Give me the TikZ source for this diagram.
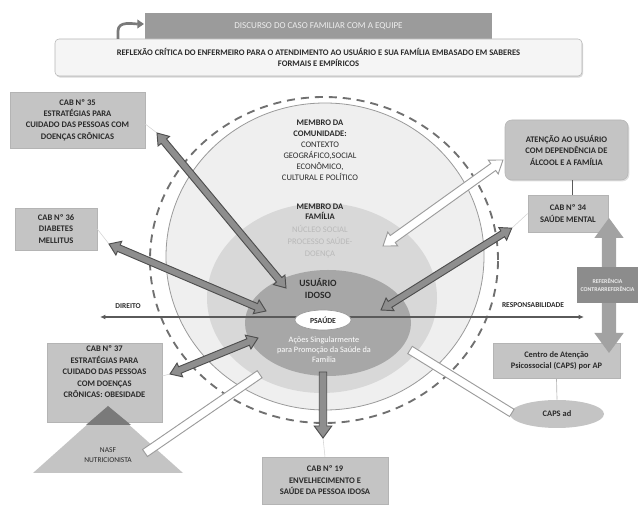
\documentclass[tikz,border=0pt]{standalone}
\usepackage{fontspec}
\setmainfont{Carlito}
\usetikzlibrary{arrows.meta,shapes.geometric,shadows}
\definecolor{cTop}{HTML}{9B9B9B}
\definecolor{cTopTxt}{HTML}{EDEDED}
\definecolor{cRefl}{HTML}{F5F5F5}
\definecolor{cBorder}{HTML}{B4B4B4}
\definecolor{cBox}{HTML}{C4C4C4}
\definecolor{cRing}{HTML}{EFEFEF}
\definecolor{cRingLine}{HTML}{9A9A9A}
\definecolor{cFam}{HTML}{D8D8D8}
\definecolor{cUser}{HTML}{A7A7A7}
\definecolor{cDash}{HTML}{707070}
\definecolor{cLine}{HTML}{5A5A5A}
\definecolor{cArrFill}{HTML}{8E8E8E}
\definecolor{cArrDraw}{HTML}{4E4E4E}
\definecolor{cWArrDraw}{HTML}{9C9C9C}
\definecolor{cFaint}{HTML}{D2D2D2}
\definecolor{cDark}{HTML}{7A7A7A}
\definecolor{cRef}{HTML}{8C8C8C}
\definecolor{cBig}{HTML}{A2A2A2}
\definecolor{cTxt}{HTML}{2A2A2A}
\definecolor{cFamTxt}{HTML}{B9B9B9}

\newcommand\fsz[2]{\fontsize{#1}{#2}\selectfont}
\newcommand\getpts[2]{%
  \pgfpointanchor{#1}{center}\pgfgetlastxy{\faX}{\faY}%
  \pgfpointanchor{#2}{center}\pgfgetlastxy{\fbX}{\fbY}%
  \pgfmathsetmacro\faAng{atan2(\fbY-\faY,\fbX-\faX)}%
  \pgfmathsetmacro\faLen{veclen(\fbX-\faX,\fbY-\faY)}}
% #1 from, #2 to, #3 style, #4 shaft half width, #5 head half width, #6 head length
\newcommand\dblarrow[6]{%
  \getpts{#1}{#2}%
  \pgfmathsetmacro\faM{\faLen-#6}%
  \begin{scope}[shift={(\faX,\faY)},rotate=\faAng]
    \path[#3] (0pt,0pt) -- (#6pt,#5pt) -- (#6pt,#4pt) -- (\faM pt,#4pt) -- (\faM pt,#5pt)
      -- (\faLen pt,0pt) -- (\faM pt,-#5pt) -- (\faM pt,-#4pt) -- (#6pt,-#4pt) -- (#6pt,-#5pt) -- cycle;
  \end{scope}}
\newcommand\headarrow[6]{%
  \getpts{#1}{#2}%
  \pgfmathsetmacro\faM{\faLen-#6}%
  \begin{scope}[shift={(\faX,\faY)},rotate=\faAng]
    \path[#3] (0pt,#4pt) -- (\faM pt,#4pt) -- (\faM pt,#5pt)
      -- (\faLen pt,0pt) -- (\faM pt,-#5pt) -- (\faM pt,-#4pt) -- (0pt,-#4pt) -- cycle;
  \end{scope}}
\newcommand\bararrow[4]{%
  \getpts{#1}{#2}%
  \begin{scope}[shift={(\faX,\faY)},rotate=\faAng]
    \path[#3] (0pt,#4pt) -- (\faLen pt,#4pt) -- (\faLen pt,-#4pt) -- (0pt,-#4pt) -- cycle;
  \end{scope}}

\tikzset{
  cab/.style={fill=cBox, draw=cBorder, line width=0.4pt, inner sep=0pt, align=center,
    text=cTxt, font=\fsz{6.4}{8.6}\bfseries,
    drop shadow={shadow xshift=1pt, shadow yshift=-1pt, opacity=0.25}},
  darkarr/.style={fill=cArrFill, draw=cArrDraw, line width=0.7pt},
  whitearr/.style={fill=white, draw=cWArrDraw, line width=0.7pt},
  bigarr/.style={fill=cBig},
  faint/.style={draw=cFaint, line width=0.4pt},
  ringtxt/.style={align=center, text=cTxt, inner sep=0pt},
}

\begin{document}
\begin{tikzpicture}[x=0.75pt,y=-0.75pt]
\useasboundingbox (0,0) rectangle (643,505);

% ---------- top banners ----------
\node[fill=cTop, minimum width=260.25pt, minimum height=19.5pt, inner sep=0pt,
  text=cTopTxt, font=\fsz{6.8}{8}] (disc) at (318.5,26) {DISCURSO DO CASO FAMILIAR COM A EQUIPE};
\node[fill=cRefl, draw=cBorder, rounded corners=3pt, minimum width=395.25pt, minimum height=27.75pt,
  inner sep=0pt, align=center, text=cTxt, font=\fsz{6.4}{7.8}\bfseries,
  drop shadow={shadow xshift=0.8pt, shadow yshift=-1.2pt, opacity=0.3}] (refl) at (318.5,57.5)
  {REFLEXÃO CRÍTICA DO ENFERMEIRO PARA O ATENDIMENTO AO USUÁRIO E SUA FAMÍLIA EMBASADO EM SABERES\\FORMAIS E EMPÍRICOS};
\coordinate (cs) at (118,39);
\coordinate (ce) at (144,24);
\draw[draw=cDark, line width=2pt, -{Triangle[length=5pt,width=6.5pt]}] (cs) -- ++(0,-8) to[out=90,in=180] (ce);

% ---------- rings ----------
\node[ellipse, draw=cDash, line width=1.4pt, dash pattern=on 6pt off 4.5pt,
  minimum width=261pt, minimum height=244.5pt, inner sep=0pt] (dashring) at (324,260) {};
\node[ellipse, fill=cRing, draw=cRingLine, line width=0.6pt,
  minimum width=238.5pt, minimum height=230.25pt, inner sep=0pt] (comring) at (325,256.5) {};
\node[ellipse, fill=cFam, minimum width=172.5pt, minimum height=142.5pt, inner sep=0pt] (famring) at (322,298) {};
\node[ellipse, fill=cUser, minimum width=124.5pt, minimum height=79.5pt, inner sep=0pt] (usrring) at (328,323) {};

\node[ringtxt, font=\fsz{6.4}{8.2}] (comtxt) at (320,150.5)
  {\textbf{MEMBRO DA}\\\textbf{COMUNIDADE:}\\CONTEXTO\\GEOGRÁFICO,SOCIAL\\ECONÔMICO,\\CULTURAL E POLÍTICO};
\node[ringtxt, font=\fsz{6.4}{7.6}\bfseries] (famtxt) at (320,212) {MEMBRO DA\\FAMÍLIA};
\node[ringtxt, text=cFamTxt, font=\fsz{6.4}{9}] (famsub) at (320,242) {NÚCLEO SOCIAL\\PROCESSO SAÚDE-\\DOENÇA};
\node[ringtxt, font=\fsz{7.2}{9.6}\bfseries] (usrtxt) at (318,288.5) {USUÁRIO\\IDOSO};
\node[ringtxt, text=white, font=\fsz{6.2}{7.5}] (acoes) at (324,350) {Ações Singularmente\\para Promoção da Saúde da\\Família};

% ---------- horizontal axis ----------
\coordinate (dirL) at (100,317);
\coordinate (respR) at (584,317);
\draw[draw=cLine, line width=0.9pt, {Latex[length=4pt,width=3.6pt]}-{Latex[length=4pt,width=3.6pt]}] (dirL) -- (respR);
\node[text=cTxt, font=\fsz{5.6}{6}\bfseries, inner sep=0pt] (direito) at (128,306) {DIREITO};
\node[text=cTxt, font=\fsz{5.6}{6}\bfseries, inner sep=0pt] (resp) at (533,305) {RESPONSABILIDADE};
\node[ellipse, fill=white, draw=cRingLine, line width=0.5pt, minimum width=42pt, minimum height=15pt,
  inner sep=0pt, text=cTxt, font=\fsz{5.8}{6}\bfseries] (psaude) at (323,320) {PSAÚDE};

% ---------- boxes ----------
\node[cab, minimum width=101.25pt, minimum height=42pt] (cab35) at (77.5,120)
  {CAB Nº 35\\ESTRATÉGIAS PARA\\CUIDADO DAS PESSOAS COM\\DOENÇAS CRÔNICAS};
\node[cab, minimum width=61.5pt, minimum height=31.5pt] (cab36) at (56,229)
  {CAB Nº 36\\DIABETES\\MELLITUS};
\node[cab, minimum width=86.25pt, minimum height=59.25pt, text depth=16pt] (cab37) at (104.5,382.5)
  {CAB Nº 37\\ESTRATÉGIAS PARA\\CUIDADO DAS PESSOAS\\COM DOENÇAS\\CRÔNICAS: OBESIDADE};
\node[cab, minimum width=94.5pt, minimum height=35.25pt] (cab19) at (325,480.5)
  {CAB Nº 19\\ENVELHECIMENTO E\\SAÚDE DA PESSOA IDOSA};
\node[cab, minimum width=92.25pt, minimum height=45pt, rounded corners=5pt] (atenc) at (566.5,150)
  {ATENÇÃO AO USUÁRIO\\COM DEPENDÊNCIA DE\\ÁLCOOL E A FAMÍLIA};
\node[cab, minimum width=60pt, minimum height=27.75pt] (cab34) at (568,213.5)
  {CAB Nº 34\\SAÚDE MENTAL};
\node[cab, minimum width=95.25pt, minimum height=26.25pt, font=\fsz{6.3}{8.4}\bfseries] (caps) at (556.5,360.5)
  {Centro de Atenção\\Psicossocial (CAPS) por AP};
\node[ellipse, fill=cBox, minimum width=70.5pt, minimum height=21pt, inner sep=0pt,
  text=cTxt, font=\fsz{6.3}{7}\bfseries] (capsad) at (557,414) {CAPS ad};

% connectors between boxes
\draw[draw=cLine, line width=0.7pt] (atenc.south -| 572,0) -- (cab34.north -| 572,0);
\draw[draw=cBorder, line width=0.5pt] (caps.south) -- (capsad.north);

% NASF triangle
\coordinate (nasfA) at (108,406);
\coordinate (nasfL) at (33,473);
\coordinate (nasfR) at (183,473);
\coordinate (nasfDL) at (86,425);
\coordinate (nasfDR) at (131,425);
\fill[cBox] (nasfA) -- (nasfR) -- (nasfL) -- cycle;
\fill[cDark] (nasfA) -- (nasfDR) -- (nasfDL) -- cycle;
\node[text=cTxt, font=\fsz{5.6}{7}, align=center, inner sep=0pt] (nasf) at (108,455) {NASF\\NUTRICIONISTA};

% ---------- arrow end points ----------
\coordinate (a1) at (157,133);  \coordinate (a2) at (286,288);
\coordinate (b1) at (109,244);  \coordinate (b2) at (266,311);
\coordinate (c1) at (170,374);  \coordinate (c2) at (258,338);
\coordinate (d1) at (512,228);  \coordinate (d2) at (381,310);
\coordinate (e1) at (323,372);  \coordinate (e2) at (323,438);
\coordinate (f1) at (503,160);  \coordinate (f2) at (383,246);
\coordinate (g1) at (145,453);  \coordinate (g2) at (260,374);
\coordinate (h1) at (410,350);  \coordinate (h2) at (512,413);
\coordinate (vt) at (609,218);  \coordinate (vb) at (609,353);

% faint leader lines
\draw[faint] (cab35.east |- 0,124) -- (a1);
\draw[faint] (cab36.east) -- (b1);
\draw[faint] (cab37.east |- 0,376) -- (c1);
\draw[faint] (cab34.west) -- (d1);
\draw[faint] (e2) -- (cab19.north);

% ---------- arrows ----------
\dblarrow{a1}{a2}{darkarr}{2.6}{5.6}{8}
\dblarrow{b1}{b2}{darkarr}{2.6}{5.6}{8}
\dblarrow{c1}{c2}{darkarr}{2.6}{5.6}{8}
\dblarrow{d2}{d1}{darkarr}{2.6}{5.6}{8}
\headarrow{e1}{e2}{darkarr}{2.8}{6.6}{9}
\dblarrow{f2}{f1}{whitearr}{3.2}{6.4}{9}
\bararrow{g1}{g2}{whitearr}{3.2}
\bararrow{h1}{h2}{whitearr}{3.2}
\dblarrow{vt}{vb}{bigarr}{5.3}{11}{15}

\node[fill=cRef, minimum width=45.75pt, minimum height=27pt, inner sep=0pt, align=center,
  text=cTopTxt, font=\fsz{4.4}{5.6}\bfseries] (refbox) at (607.5,285) {REFERÊNCIA\\CONTRARREFERÊNCIA};
\end{tikzpicture}
\end{document}
